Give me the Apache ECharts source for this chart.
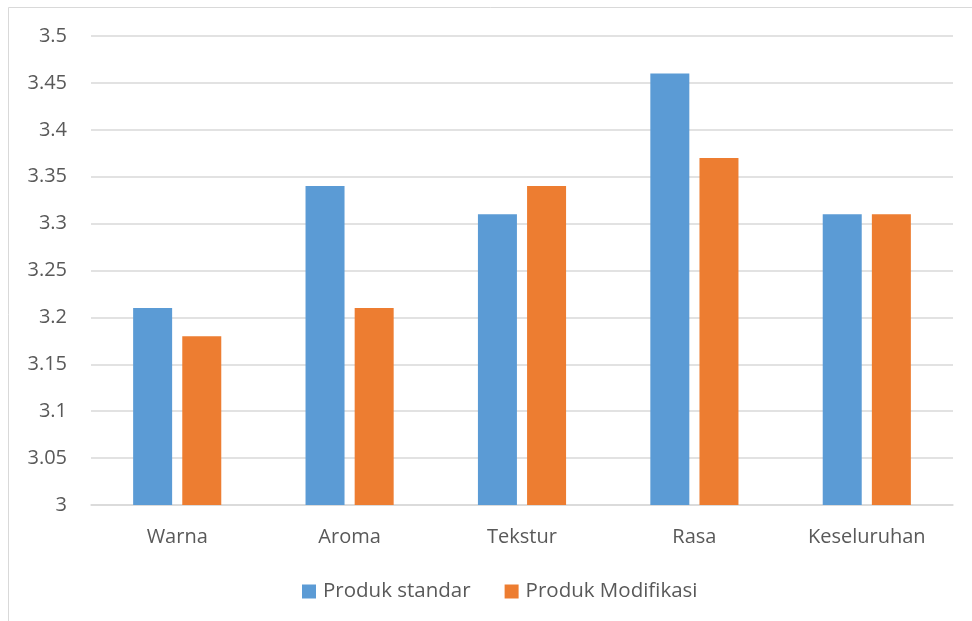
<!DOCTYPE html>
<html>
<head>
<meta charset="utf-8">
<script src="https://cdn.jsdelivr.net/npm/echarts@6/dist/echarts.min.js"></script>
<style>
  html, body { margin: 0; padding: 0; background: #fff; }
  #chart { width: 972px; height: 621px; }
</style>
</head>
<body>
<div id="chart"></div>
<script>
// Sensory scores per attribute
const categories = ['Warna', 'Aroma', 'Tekstur', 'Rasa', 'Keseluruhan'];
const produkStandar = [3.21, 3.34, 3.31, 3.46, 3.31];
const produkModifikasi = [3.18, 3.21, 3.34, 3.37, 3.31];
const seriesNames = ['Produk standar', 'Produk Modifikasi'];

const textColor = '#595959';
const font = '"Open Sans", "Noto Sans", sans-serif';

const chart = echarts.init(document.getElementById('chart'), null, { renderer: 'canvas' });
chart.setOption({
  backgroundColor: '#fff',
  animation: false,
  textStyle: { fontFamily: font },
  graphic: [{
    type: 'rect',
    shape: { x: 8.5, y: 7.5, width: 1200, height: 800 },
    style: { fill: 'none', stroke: '#d9d9d9', lineWidth: 1 },
    silent: true
  }],
  grid: { left: 91, right: 19, top: 36, bottom: 116, containLabel: false },
  legend: {
    data: seriesNames,
    top: 576,
    left: 297,
    padding: [5, 5, 5, 5],
    itemWidth: 14,
    itemHeight: 14,
    itemGap: 34,
    icon: 'rect',
    textStyle: { color: textColor, fontSize: 20.5, fontFamily: font, padding: [0, 0, 0, 2] }
  },
  xAxis: {
    type: 'category',
    data: categories,
    axisLine: { show: true, lineStyle: { color: '#d9d9d9', width: 1.5 } },
    axisTick: { show: false },
    axisLabel: { color: textColor, fontSize: 20, margin: 22, fontFamily: font }
  },
  yAxis: {
    type: 'value',
    min: 3,
    max: 3.5,
    interval: 0.05,
    axisLine: { show: false },
    axisTick: { show: false },
    axisLabel: {
      color: textColor, fontSize: 20, margin: 24, fontFamily: font,
      formatter: v => String(parseFloat(v.toFixed(2)))
    },
    splitLine: { lineStyle: { color: '#d9d9d9', width: 1.5 } }
  },
  series: [
    {
      name: seriesNames[0], type: 'bar', data: produkStandar,
      barWidth: 39, barGap: '26%',
      itemStyle: { color: '#5B9BD5' }
    },
    {
      name: seriesNames[1], type: 'bar', data: produkModifikasi,
      barWidth: 39,
      itemStyle: { color: '#ED7D31' }
    }
  ]
});
</script>
</body>
</html>
